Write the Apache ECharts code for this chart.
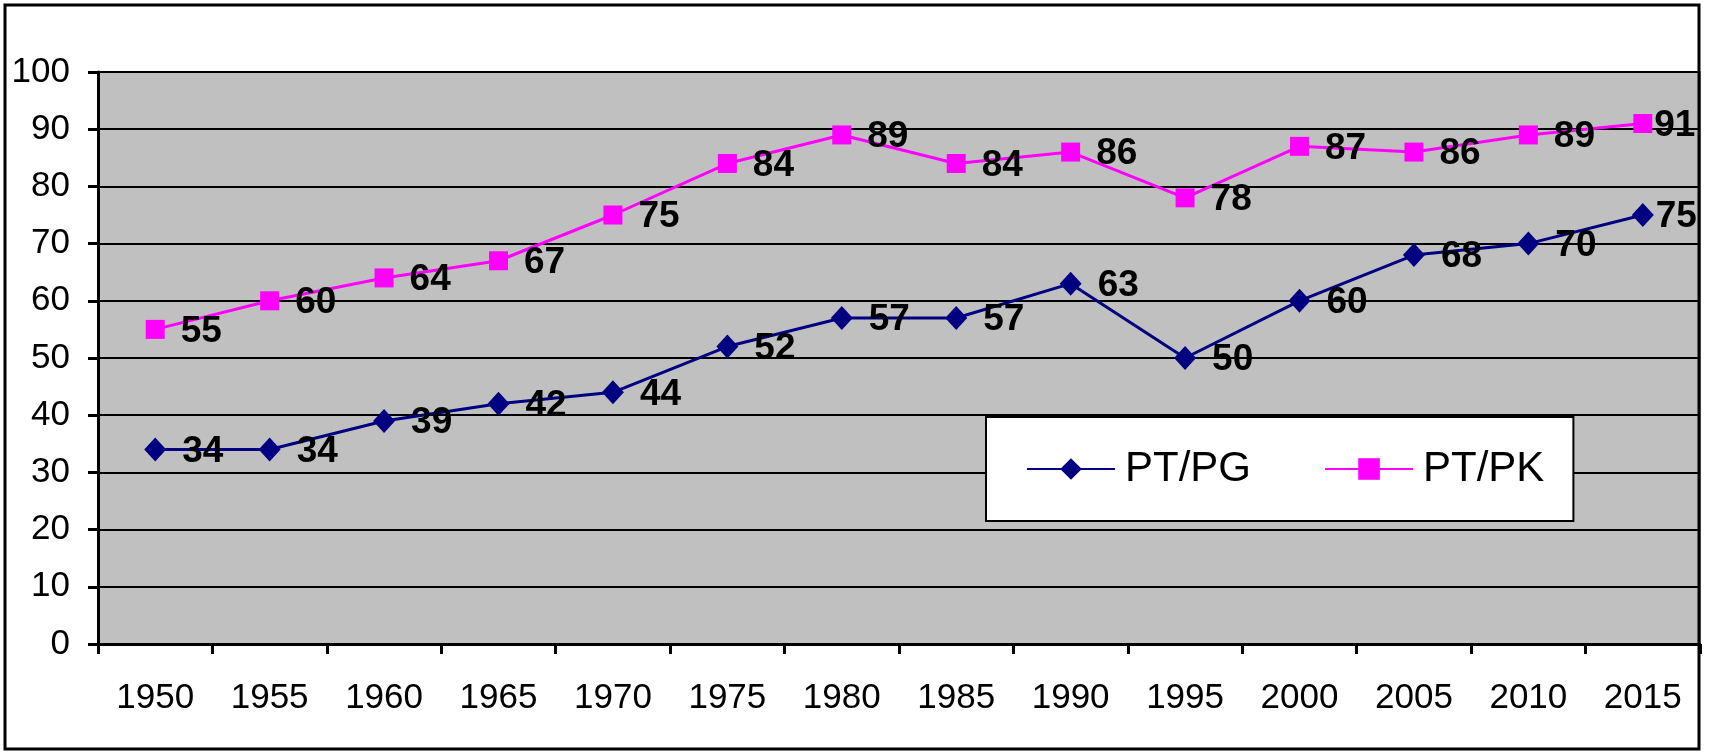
<!DOCTYPE html>
<html>
<head>
<meta charset="utf-8">
<script src="https://cdn.jsdelivr.net/npm/echarts@6/dist/echarts.min.js"></script>
<style>
html,body{margin:0;padding:0;background:#fff;}
#c{width:1710px;height:756px;}
</style>
</head>
<body>
<div id="c"></div>
<script>
const categories = ['1950','1955','1960','1965','1970','1975','1980','1985','1990','1995','2000','2005','2010','2015'];
const ptpg = [34,34,39,42,44,52,57,57,63,50,60,68,70,75];
const ptpk = [55,60,64,67,75,84,89,84,86,78,87,86,89,91];
const yTicks = {min:0, max:100, interval:10};

const FONT = "'Liberation Sans', Arial, sans-serif";
const NARROW = "'Liberation Sans Narrow', 'Arial Narrow', 'Liberation Sans', sans-serif";
const chart = echarts.init(document.getElementById('c'));
const labelCfg = {
  show: true, position: 'right', distance: 16, offset: [0, 2],
  fontFamily: NARROW, fontSize: 37, fontWeight: 'bold', color: '#000'
};
// last label is pulled in next to its marker so it stays inside the chart
function withEdgeLabel(values) {
  return values.map((v, i) => i === values.length - 1
    ? {value: v, label: {distance: 2}}
    : v);
}
chart.setOption({
  animation: false,
  backgroundColor: '#fff',
  graphic: [{
    type: 'rect', z: 100, silent: true,
    shape: {x: 5, y: 5, width: 1694, height: 744},
    style: {fill: 'none', stroke: '#000', lineWidth: 3}
  }],
  grid: {
    left: 98, top: 72, right: 10, bottom: 112,
    show: true, backgroundColor: '#C0C0C0', borderColor: '#808080', borderWidth: 2
  },
  legend: {
    left: 986, top: 417,
    itemWidth: 88, itemHeight: 27, itemGap: 73,
    padding: [31, 29, 31, 40],
    backgroundColor: '#fff', borderColor: '#000', borderWidth: 2,
    textStyle: {fontFamily: FONT, fontSize: 42, color: '#000', padding: [0, 0, 0, 5]},
    data: ['PT/PG', 'PT/PK']
  },
  xAxis: {
    type: 'category', data: categories, boundaryGap: true,
    axisLine: {show: true, lineStyle: {color: '#000', width: 3}},
    axisTick: {show: true, length: 10, lineStyle: {color: '#000', width: 3}},
    axisLabel: {fontFamily: FONT, fontSize: 35, color: '#000', margin: 37, interval: 0},
    splitLine: {show: false}
  },
  yAxis: {
    type: 'value', min: yTicks.min, max: yTicks.max, interval: yTicks.interval,
    axisLine: {show: true, lineStyle: {color: '#000', width: 3}},
    axisTick: {show: true, length: 10, lineStyle: {color: '#000', width: 3}},
    axisLabel: {fontFamily: FONT, fontSize: 35, color: '#000', margin: 28},
    splitLine: {show: true, lineStyle: {color: '#000', width: 2}}
  },
  series: [{
    name: 'PT/PG', type: 'line', data: withEdgeLabel(ptpg),
    symbol: 'diamond', symbolSize: [22, 24],
    lineStyle: {color: '#000080', width: 3},
    itemStyle: {color: '#000080'},
    label: labelCfg
  }, {
    name: 'PT/PK', type: 'line', data: withEdgeLabel(ptpk),
    symbol: 'rect', symbolSize: 19,
    lineStyle: {color: '#FF00FF', width: 3},
    itemStyle: {color: '#FF00FF'},
    label: labelCfg
  }]
});
</script>
</body>
</html>
